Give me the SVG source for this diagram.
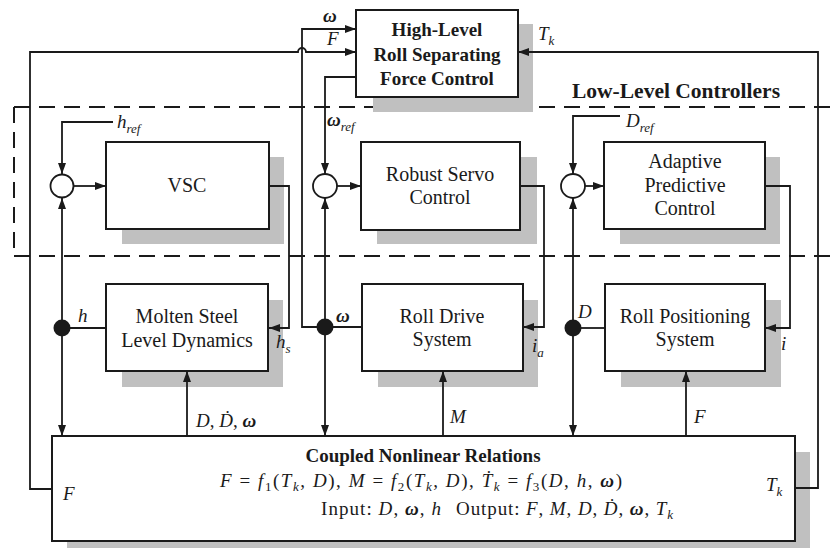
<svg xmlns="http://www.w3.org/2000/svg" width="831" height="548" viewBox="0 0 831 548">
<defs>
<style>
.box{fill:#fff;stroke:#1a1a1a;stroke-width:2}
.sh{fill:#c0c0c0}
.ln{fill:none;stroke:#1a1a1a;stroke-width:1.8}
.dash{fill:none;stroke:#1a1a1a;stroke-width:2;stroke-dasharray:16 9}
.t{font-family:"Liberation Serif","Times New Roman",serif;font-size:20px;fill:#1a1a1a;text-anchor:middle}
.b{font-family:"Liberation Serif","Times New Roman",serif;font-weight:bold;fill:#1a1a1a}
.m{font-family:"Liberation Serif","Times New Roman",serif;font-size:19px;fill:#1a1a1a}
.i{font-style:italic}
.w{font-style:italic;font-weight:bold}
.dot{fill:#1a1a1a}
.jn{fill:#fff;stroke:#1a1a1a;stroke-width:1.8}
</style>
<marker id="arr" viewBox="0 0 11 8" refX="11" refY="4" markerWidth="11" markerHeight="8" markerUnits="userSpaceOnUse" orient="auto">
<path d="M0,0 L11,4 L0,8 z" fill="#1a1a1a"/>
</marker>
</defs>
<rect width="831" height="548" fill="#fff"/>

<!-- Low-level controllers dashed region -->
<g id="low-level-region">
<path class="dash" d="M14,107 H831 M14,256 H831 M14,107 V256"/>
<text class="b" x="780" y="98" font-size="21.5" text-anchor="end">Low-Level Controllers</text>
</g>

<g id="high-level">
<rect class="sh" x="373" y="24" width="160" height="88"/>
<rect class="box" x="356" y="10" width="162" height="87"/>
<text class="b" x="437" y="36" font-size="19" text-anchor="middle">High-Level</text>
<text class="b" x="437" y="61" font-size="19" text-anchor="middle">Roll Separating</text>
<text class="b" x="437" y="85" font-size="19" text-anchor="middle">Force Control</text>
</g>

<g id="vsc">
<rect class="sh" x="122" y="157" width="162" height="87"/>
<rect class="box" x="106" y="142" width="163" height="87"/>
<text class="t" x="187" y="192">VSC</text>
</g>

<g id="robust-servo">
<rect class="sh" x="377" y="157" width="160" height="87"/>
<rect class="box" x="361" y="142" width="159" height="88"/>
<text class="t" x="440" y="181">Robust Servo</text>
<text class="t" x="440" y="204">Control</text>
</g>

<g id="adaptive-predictive">
<rect class="sh" x="620" y="157" width="160" height="87"/>
<rect class="box" x="604" y="142" width="161" height="87"/>
<text class="t" x="685" y="168">Adaptive</text>
<text class="t" x="685" y="192">Predictive</text>
<text class="t" x="685" y="215">Control</text>
</g>

<g id="molten-steel">
<rect class="sh" x="122" y="300" width="161" height="87"/>
<rect class="box" x="106" y="284" width="162" height="87"/>
<text class="t" x="187" y="323">Molten Steel</text>
<text class="t" x="187" y="347">Level Dynamics</text>
</g>

<g id="roll-drive">
<rect class="sh" x="378" y="300" width="160" height="87"/>
<rect class="box" x="362" y="284" width="161" height="87"/>
<text class="t" x="442" y="323">Roll Drive</text>
<text class="t" x="442" y="346">System</text>
</g>

<g id="roll-positioning">
<rect class="sh" x="621" y="300" width="160" height="87"/>
<rect class="box" x="605" y="284" width="160" height="87"/>
<text class="t" x="685" y="323">Roll Positioning</text>
<text class="t" x="685" y="346">System</text>
</g>

<g id="coupled">
<rect class="sh" x="67" y="452" width="743" height="105"/>
<rect class="box" x="52" y="436" width="743" height="105"/>
<text class="b" x="423" y="462" font-size="19" text-anchor="middle">Coupled Nonlinear Relations</text>
<text class="m" x="220" y="487" textLength="402" lengthAdjust="spacing"><tspan class="i">F</tspan> = <tspan class="i">f</tspan><tspan font-size="13" dy="4">1</tspan><tspan dy="-4">(</tspan><tspan class="i">T</tspan><tspan class="i" font-size="13" dy="4">k</tspan><tspan dy="-4">, </tspan><tspan class="i">D</tspan>), <tspan class="i">M</tspan> = <tspan class="i">f</tspan><tspan font-size="13" dy="4">2</tspan><tspan dy="-4">(</tspan><tspan class="i">T</tspan><tspan class="i" font-size="13" dy="4">k</tspan><tspan dy="-4">, </tspan><tspan class="i">D</tspan>), <tspan class="i">Ṫ</tspan><tspan class="i" font-size="13" dy="4">k</tspan><tspan dy="-4"> = </tspan><tspan class="i">f</tspan><tspan font-size="13" dy="4">3</tspan><tspan dy="-4">(</tspan><tspan class="i">D</tspan>, <tspan class="i">h</tspan>, <tspan class="w">ω</tspan>)</text>
<text class="m" x="321" y="515" textLength="120" lengthAdjust="spacing">Input: <tspan class="i">D</tspan>, <tspan class="w">ω</tspan>, <tspan class="i">h</tspan></text>
<text class="m" x="456" y="515" textLength="217" lengthAdjust="spacing">Output:  <tspan class="i">F</tspan>, <tspan class="i">M</tspan>, <tspan class="i">D</tspan>, <tspan class="i">Ḋ</tspan>, <tspan class="w">ω</tspan>, <tspan class="i">T</tspan><tspan class="i" font-size="13" dy="4">k</tspan></text>
<text class="m i" x="63" y="500">F</text>
<text class="m i" x="766" y="491">T<tspan font-size="13" dy="5">k</tspan></text>
</g>

<g id="connectors">
<!-- F loop -->
<path class="ln" d="M52,489 H30 V52 H298 a4,4 0 0 1 8,0 H356" marker-end="url(#arr)"/>
<!-- Tk loop -->
<path class="ln" d="M795,488 H818 V52 H518" marker-end="url(#arr)"/>
<!-- omega feedback -->
<path class="ln" d="M325,327 H302 V29 H356" marker-end="url(#arr)"/>
<!-- omega_ref -->
<path class="ln" d="M356,77 H325 V174" marker-end="url(#arr)"/>
<!-- h_ref -->
<path class="ln" d="M113,122 H62 V174" marker-end="url(#arr)"/>
<!-- D_ref -->
<path class="ln" d="M620,116 H573 V174" marker-end="url(#arr)"/>
<!-- junction to controllers -->
<path class="ln" d="M74,186 H106" marker-end="url(#arr)"/>
<path class="ln" d="M337,186 H361" marker-end="url(#arr)"/>
<path class="ln" d="M585,186 H604" marker-end="url(#arr)"/>
<!-- controller outputs -->
<path class="ln" d="M269,186 H289 V328 H269" marker-end="url(#arr)"/>
<path class="ln" d="M520,186 H544 V327 H523" marker-end="url(#arr)"/>
<path class="ln" d="M765,186 H790 V328 H765" marker-end="url(#arr)"/>
<!-- plant outputs to dots -->
<path class="ln" d="M106,328 H62"/>
<path class="ln" d="M362,327 H325"/>
<path class="ln" d="M605,328 H573"/>
<!-- feedback up to junctions -->
<path class="ln" d="M62,328 V198" marker-end="url(#arr)"/>
<path class="ln" d="M325,327 V198" marker-end="url(#arr)"/>
<path class="ln" d="M573,328 V198" marker-end="url(#arr)"/>
<!-- down to coupled relations -->
<path class="ln" d="M62,328 V436" marker-end="url(#arr)"/>
<path class="ln" d="M325,327 V436" marker-end="url(#arr)"/>
<path class="ln" d="M573,328 V436" marker-end="url(#arr)"/>
<!-- coupled relations up to plants -->
<path class="ln" d="M187,436 V371" marker-end="url(#arr)"/>
<path class="ln" d="M443,436 V371" marker-end="url(#arr)"/>
<path class="ln" d="M686,436 V371" marker-end="url(#arr)"/>
<!-- dots and junctions -->
<circle class="dot" cx="62" cy="328" r="8.5"/>
<circle class="dot" cx="325" cy="327" r="8.5"/>
<circle class="dot" cx="573" cy="328" r="8.5"/>
<circle class="jn" cx="62" cy="186" r="11.5"/>
<circle class="jn" cx="325" cy="186" r="12"/>
<circle class="jn" cx="573" cy="186" r="12"/>
<!-- connector labels -->
<text class="m w" x="323" y="22">ω</text>
<text class="m i" x="327" y="45">F</text>
<text class="m i" x="538" y="40">T<tspan font-size="13" dy="5">k</tspan></text>
<text class="m i" x="117" y="128">h<tspan font-size="13" dy="5">ref</tspan></text>
<text class="m w" x="327" y="126">ω<tspan font-size="13" dy="5" font-weight="normal">ref</tspan></text>
<text class="m i" x="626" y="127">D<tspan font-size="13" dy="5">ref</tspan></text>
<text class="m i" x="78" y="322">h</text>
<text class="m w" x="336" y="322">ω</text>
<text class="m i" x="578" y="318">D</text>
<text class="m i" x="276" y="348">h<tspan font-size="13" dy="5">s</tspan></text>
<text class="m i" x="532" y="352">i<tspan font-size="13" dy="5">a</tspan></text>
<text class="m i" x="781" y="350">i</text>
<text class="m" x="196" y="427"><tspan class="i">D</tspan>, <tspan class="i">Ḋ</tspan>, <tspan class="w">ω</tspan></text>
<text class="m i" x="450" y="423">M</text>
<text class="m i" x="694" y="423">F</text>
</g>
</svg>
